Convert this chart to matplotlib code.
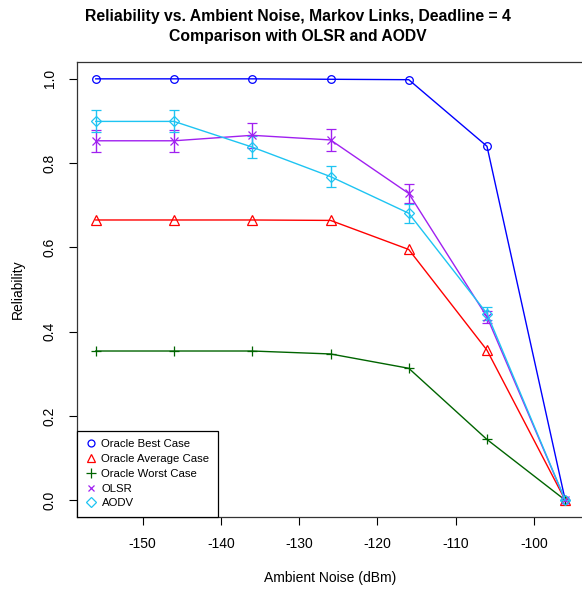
import numpy as np
import matplotlib
matplotlib.use('Agg')
from matplotlib import pyplot as plt
from matplotlib.lines import Line2D

plt.rcParams['font.family'] = ['Liberation Sans', 'DejaVu Sans']
plt.rcParams['axes.unicode_minus'] = False

# ambient noise levels (dBm)
noise = [-156, -146, -136, -126, -116, -106, -96]

best = [1.0, 1.0, 1.0, 0.999, 0.998, 0.840, 0.0]
average = [0.665, 0.665, 0.665, 0.664, 0.595, 0.356, 0.0]
worst = [0.354, 0.354, 0.354, 0.347, 0.313, 0.144, 0.0]
olsr = [0.853, 0.853, 0.866, 0.855, 0.728, 0.435, 0.0]
olsr_err = [0.026, 0.026, 0.030, 0.027, 0.023, 0.015, 0.0]
aodv = [0.899, 0.899, 0.838, 0.768, 0.681, 0.443, 0.0]
aodv_err = [0.026, 0.026, 0.026, 0.025, 0.022, 0.015, 0.0]

names = ['Oracle Best Case', 'Oracle Average Case', 'Oracle Worst Case', 'OLSR', 'AODV']
colors = ['#0000FF', '#FF0000', '#006400', '#A020F0', '#1EC4F2']
markers = ['o', '^', '+', 'x', 'D']
sizes = [5.5, 6.5, 7, 5.5, 5.5]

fig = plt.figure(figsize=(5.82, 5.89), dpi=100)
# right edge of the box falls just outside the canvas
ax = fig.add_axes([77 / 582, 1 - 517 / 589, 507 / 582, 455 / 589])

series = [best, average, worst, olsr, aodv]
errs = [None, None, None, olsr_err, aodv_err]
for y, e, c, m, s in zip(series, errs, colors, markers, sizes):
    mfc = 'none' if m in ('o', '^', 'D') else c
    if e is None:
        ax.plot(noise, y, color=c, lw=1, marker=m, ms=s, mfc=mfc, mew=0.9)
    else:
        ax.errorbar(noise, y, yerr=e, color=c, lw=1, marker=m, ms=s, mfc=mfc, mew=0.9,
                    capsize=3.6, elinewidth=1, capthick=1)

ax.set_xlim(-158.4, -93.6)
ax.set_ylim(-0.04, 1.04)
ax.set_xticks([-150, -140, -130, -120, -110, -100])
ax.set_yticks([0.0, 0.2, 0.4, 0.6, 0.8, 1.0])
ax.set_yticklabels(['0.0', '0.2', '0.4', '0.6', '0.8', '1.0'], rotation=90, va='center')
ax.tick_params(direction='out', length=5.5, width=0.8, labelsize=10, pad=9)
for s in ax.spines.values():
    s.set_linewidth(0.9)
    s.set_color('#333333')

ax.set_xlabel('Ambient Noise (dBm)', fontsize=10, labelpad=14)
ax.set_ylabel('Reliability', fontsize=10, labelpad=13)
fig.suptitle('Reliability vs. Ambient Noise, Markov Links, Deadline = 4\nComparison with OLSR and AODV',
             x=(87 + 508) / 2 / 582, y=1 - 9 / 589, fontsize=11.3, fontweight='bold', va='top',
             linespacing=1.45)

handles = [Line2D([], [], ls='none', color=c, marker=m, ms=s - 0.5,
                  mfc='none' if m in ('o', '^', 'D') else c, mew=0.9)
           for c, m, s in zip(colors, markers, sizes)]
leg = ax.legend(handles, names, loc='lower left', borderaxespad=0, fontsize=8.2,
                fancybox=False, framealpha=1, edgecolor='black', handlelength=1.0,
                handletextpad=0.4, labelspacing=0.42, borderpad=0.75)
leg.get_frame().set_linewidth(0.9)

fig.savefig('out.png', dpi=100)
